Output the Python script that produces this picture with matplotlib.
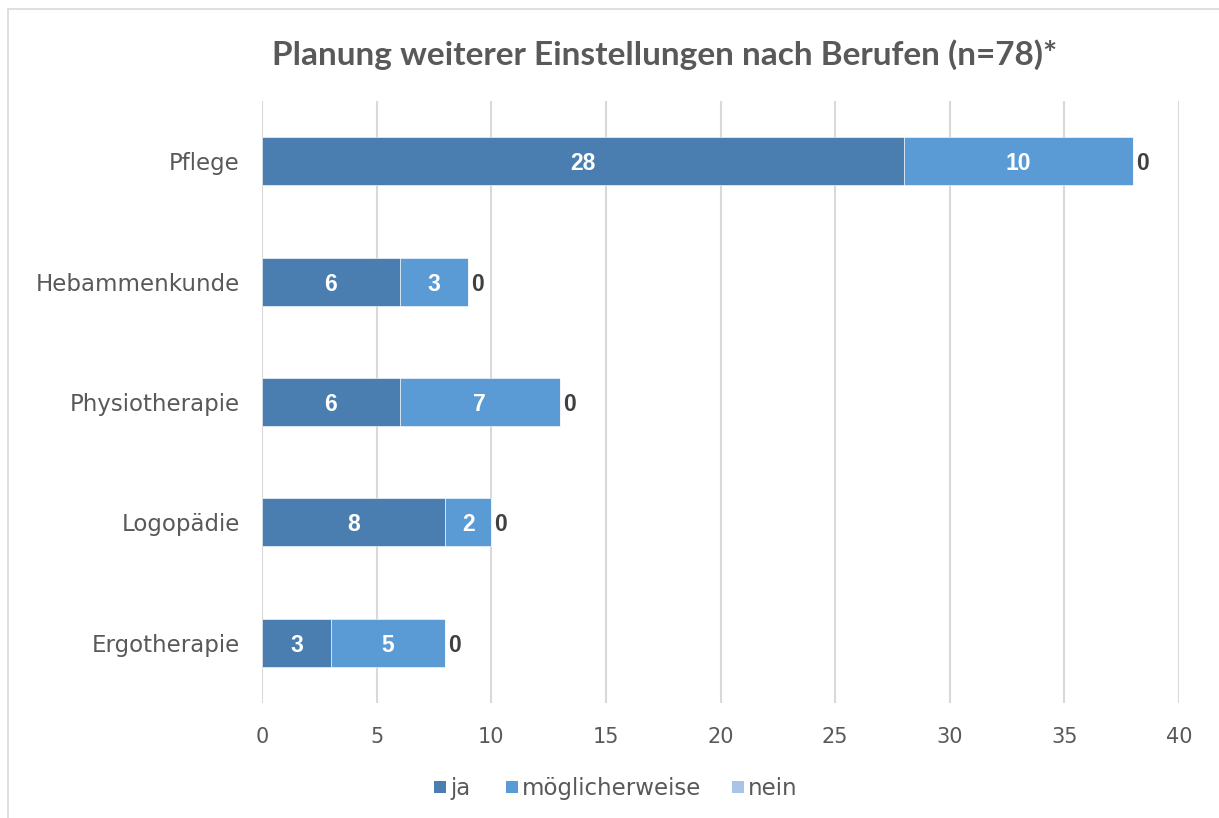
import matplotlib
matplotlib.use("Agg")
import matplotlib.pyplot as plt
from matplotlib.patches import Rectangle
import numpy as np

categories = ["Pflege", "Hebammenkunde", "Physiotherapie", "Logopädie", "Ergotherapie"]
ja = [28, 6, 6, 8, 3]
moeglich = [10, 3, 7, 2, 5]
nein = [0, 0, 0, 0, 0]
series_names = ["ja", "möglicherweise", "nein"]
series_colors = ["#4A7EB0", "#5B9BD5", "#A9C4E6"]
title = "Planung weiterer Einstellungen nach Berufen (n=78)*"

W, H = 1219, 818
fig = plt.figure(figsize=(W / 100, H / 100), dpi=100)
fig.patch.set_facecolor("white")

# chart frame
fig.patches.append(Rectangle((8 / W, -0.01), 1.02, 1 - 9 / H + 0.01,
                             transform=fig.transFigure, fill=False,
                             edgecolor="#D9D9D9", linewidth=1.2))

ax = fig.add_axes([262 / W, 1 - 703 / H, (1179 - 262) / W, (703 - 101) / H])
y = np.arange(len(categories))
h = 0.4

left = np.zeros(len(categories))
bars = []
for vals, name, col in zip([ja, moeglich, nein], series_names, series_colors):
    b = ax.barh(y, vals, height=h, left=left, color=col, label=name,
                edgecolor="white", linewidth=0.4, zorder=3)
    bars.append(b)
    left = left + np.array(vals)

label_font = "Liberation Sans"
for rects, vals in zip(bars[:2], [ja, moeglich]):
    for r, v in zip(rects, vals):
        ax.text(r.get_x() + r.get_width() / 2, r.get_y() + r.get_height() / 2,
                str(v), ha="center", va="center_baseline", color="white",
                fontsize=16.5, fontweight="bold", family=label_font, zorder=4)
for r, v in zip(bars[2], nein):
    ax.text(r.get_x() + r.get_width() + 0.12, r.get_y() + r.get_height() / 2,
            str(v), ha="left", va="center_baseline", color="#404040",
            fontsize=16.5, fontweight="bold", family=label_font, zorder=4)

text_font = "DejaVu Sans"
ax.set_xlim(0, 40)
ax.set_ylim(len(categories) - 0.5, -0.5)
ax.set_xticks(np.arange(0, 41, 5))
ax.set_yticks(y)
ax.set_yticklabels(categories)
ax.grid(axis="x", color="#D9D9D9", linewidth=1.5, zorder=0)
ax.set_axisbelow(True)
for s in ax.spines.values():
    s.set_visible(False)
ax.tick_params(axis="both", length=0, labelcolor="#595959")
ax.tick_params(axis="x", pad=17, labelsize=15)
ax.tick_params(axis="y", pad=16, labelsize=16.5)
for lbl in ax.get_xticklabels() + ax.get_yticklabels():
    lbl.set_family(text_font)

fig.text(665 / W, 1 - 55 / H, title, ha="center", va="center",
         fontsize=24, fontweight="bold", color="#595959", family="Lato")

# legend row: colour square followed by the series name
legend_x = [434, 506, 732]
sq = 12
for x0, name, col in zip(legend_x, series_names, series_colors):
    fig.patches.append(Rectangle((x0 / W, 1 - 793 / H), sq / W, sq / H,
                                 transform=fig.transFigure, facecolor=col,
                                 edgecolor="none"))
    fig.text((x0 + sq + 4) / W, 1 - 795 / H, name, ha="left", va="baseline",
             fontsize=16.5, color="#595959", family=text_font)

fig.savefig("out.png", dpi=100, facecolor="white")
